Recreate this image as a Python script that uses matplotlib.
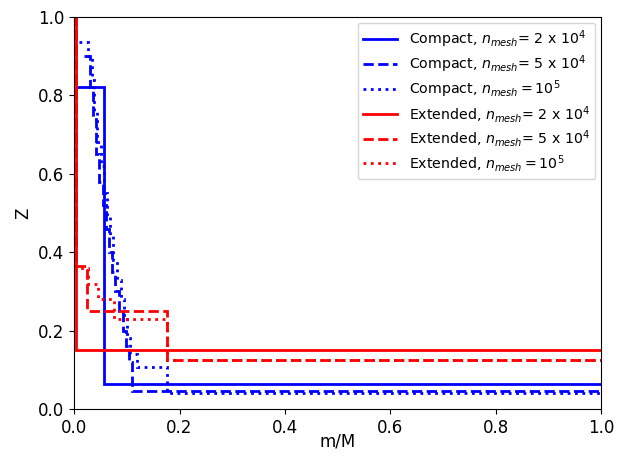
import matplotlib
matplotlib.use("Agg")
import matplotlib.pyplot as plt
import numpy as np

# compact star, step profiles Z(m/M)
c1_edges = [0.003, 0.057, 1]
c1_Z = [0.82, 0.063]

c2_edges = [0.018, 0.030, 0.036, 0.042, 0.048, 0.054, 0.060, 0.066, 0.072, 0.078,
            0.086, 0.092, 0.098, 0.104, 0.110, 1]
c2_Z = [0.90, 0.82, 0.74, 0.65, 0.58, 0.52, 0.46, 0.40, 0.35, 0.30,
        0.25, 0.20, 0.16, 0.12, 0.045]

c3_edges = [0.010, 0.026, 0.033, 0.038, 0.044, 0.050, 0.056, 0.062, 0.068, 0.074,
            0.082, 0.088, 0.094, 0.100, 0.106, 0.120, 0.176, 1]
c3_Z = [0.936, 0.90, 0.84, 0.76, 0.68, 0.62, 0.55, 0.49, 0.44, 0.38,
        0.33, 0.28, 0.23, 0.18, 0.14, 0.107, 0.040]

# extended star
e1_edges = [0, 0.003, 1]
e1_Z = [1.0, 0.15]

e2_edges = [0, 0.003, 0.025, 0.176, 1]
e2_Z = [1.0, 0.365, 0.25, 0.126]

e3_edges = [0, 0.003, 0.027, 0.046, 0.075, 0.176, 1]
e3_Z = [1.0, 0.36, 0.32, 0.28, 0.23, 0.126]

fig = plt.figure(figsize=(6.18, 4.57), dpi=100)
ax = fig.add_axes([0.12, 0.105, 0.8525, 0.858])

lw = 2
ax.stairs(c1_Z, c1_edges, baseline=None, color='blue', lw=lw, ls='-',
          label=r'Compact, $n_{mesh}$= 2 x 10$^4$')
ax.stairs(c2_Z, c2_edges, baseline=None, color='blue', lw=lw, ls='--',
          label=r'Compact, $n_{mesh}$= 5 x 10$^4$')
ax.stairs(c3_Z, c3_edges, baseline=None, color='blue', lw=lw, ls=':',
          label=r'Compact, $n_{mesh} = 10^5$')
ax.stairs(e1_Z, e1_edges, baseline=None, color='red', lw=lw, ls='-',
          label=r'Extended, $n_{mesh}$= 2 x 10$^4$')
ax.stairs(e2_Z, e2_edges, baseline=None, color='red', lw=lw, ls='--',
          label=r'Extended, $n_{mesh}$= 5 x 10$^4$')
ax.stairs(e3_Z, e3_edges, baseline=None, color='red', lw=lw, ls=':',
          label=r'Extended, $n_{mesh} = 10^5$')

ax.set_xlim(0, 1)
ax.set_ylim(0, 1)
ax.set_xlabel('m/M', fontsize=12, labelpad=-3)
ax.set_ylabel('Z', fontsize=12)
ax.tick_params(labelsize=12)
ax.legend(loc='upper right', fontsize=10.2, labelspacing=0.25,
          handlelength=2.4, borderaxespad=0.4)

fig.savefig('out.png', dpi=100)
